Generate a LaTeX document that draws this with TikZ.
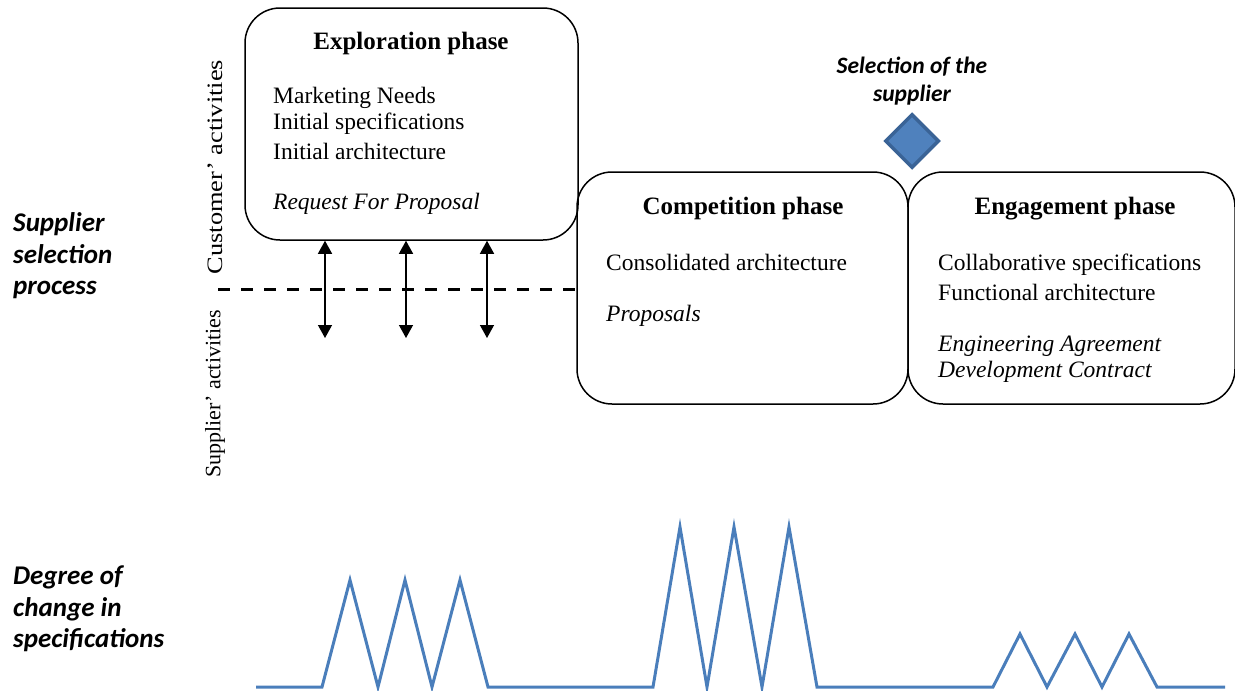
\documentclass[tikz,border=0pt]{standalone}
\usepackage{fontspec}
\setmainfont{Liberation Serif}
\newfontfamily\calib{Carlito}
\usetikzlibrary{arrows.meta,shapes.geometric}
\definecolor{zig}{HTML}{4A7EBB}
\definecolor{dfill}{HTML}{4F81BD}
\definecolor{ddraw}{HTML}{3A6396}
\tikzset{
  phasebox/.style={draw=black,line width=1.5pt,rounded corners=35pt,inner sep=0pt},
  title/.style={font=\fontsize{25}{30}\selectfont\bfseries,inner sep=0pt},
  body/.style={font=\fontsize{23.5}{27}\selectfont,inner sep=0pt,anchor=west,align=left},
  side/.style={font=\calib\fontsize{27}{31.5}\selectfont\bfseries\itshape,inner sep=0pt,anchor=west,align=left},
  rot/.style={font=\fontsize{22}{25}\selectfont,inner sep=0pt,rotate=90},
  exch/.style={line width=1.3pt,{Triangle[length=13pt,width=14pt]}-{Triangle[length=13pt,width=14pt]}},
  zz/.style={draw=zig,line width=3pt,line join=miter}
}
\begin{document}
\begin{tikzpicture}[x=1pt,y=-1pt]
\useasboundingbox (0,0) rectangle (1235,691);
% boxes
\node[phasebox,minimum width=333pt,minimum height=232pt] (exp) at (411.5,124) {};
\node[phasebox,minimum width=331pt,minimum height=232pt] (com) at (742.5,288) {};
\node[phasebox,minimum width=327pt,minimum height=232pt] (eng) at (1071.5,288) {};
% exploration
\node[title] (expt) at (411,43) {Exploration phase};
\node[body] (e1) at (273,98) {Marketing Needs};
\node[body] (e2) at (273,124) {Initial specifications};
\node[body] (e3) at (273,151) {Initial architecture};
\node[body] (e4) at (273,204) {\itshape Request For Proposal};
% competition
\node[title] (comt) at (743,208) {Competition phase};
\node[body] (c1) at (606,262) {Consolidated architecture};
\node[body] (c2) at (606,316) {\itshape Proposals};
% engagement
\node[title] (engt) at (1075,209) {Engagement phase};
\node[body] (g1) at (938,265) {Collaborative specifications};
\node[body] (g2) at (938,292) {Functional architecture};
\node[body] (g3) at (938,346) {\itshape Engineering Agreement};
\node[body] (g4) at (938,372) {\itshape Development Contract};
% selection
\node[font=\calib\fontsize{23.5}{28}\selectfont\bfseries\itshape,align=center,inner sep=0pt] (sel) at (912,81) {Selection of the\\supplier};
\node[diamond,fill=dfill,draw=ddraw,line width=3.5pt,minimum width=54pt,minimum height=54pt,inner sep=0pt] (dia) at (912,141) {};
% side labels
\node[side] (ssp) at (13,256) {Supplier\\selection\\process};
\node[side] (dcs) at (13,609) {Degree of\\change in\\specifications};
\node[rot,xscale=1.2] (cust) at (215,167) {Customer’ activities};
\node[rot] (supp) at (215,394) {Supplier’ activities};
% dashed line
\coordinate (dl) at (218,289);
\draw[line width=3pt,dash pattern=on 12pt off 11pt] (dl) -- (com.west |- dl);
% exchange arrows
\coordinate (a1) at (325,338);
\coordinate (a2) at (406,338);
\coordinate (a3) at (487,338);
\draw[exch] (exp.south -| a1) -- (a1);
\draw[exch] (exp.south -| a2) -- (a2);
\draw[exch] (exp.south -| a3) -- (a3);
% degree of change line
\draw[zz] (256,687) -- (322,687) -- (350,580) -- (378,687) -- (405,580) -- (432,687) -- (460,580) -- (488,687)
  -- (653,687) -- (680,527) -- (707,687) -- (734,527) -- (762,687) -- (789,527) -- (817,687)
  -- (993,687) -- (1020,634) -- (1047,687) -- (1075,634) -- (1102,687) -- (1129,634) -- (1157,687) -- (1225,687);
\end{tikzpicture}
\end{document}
